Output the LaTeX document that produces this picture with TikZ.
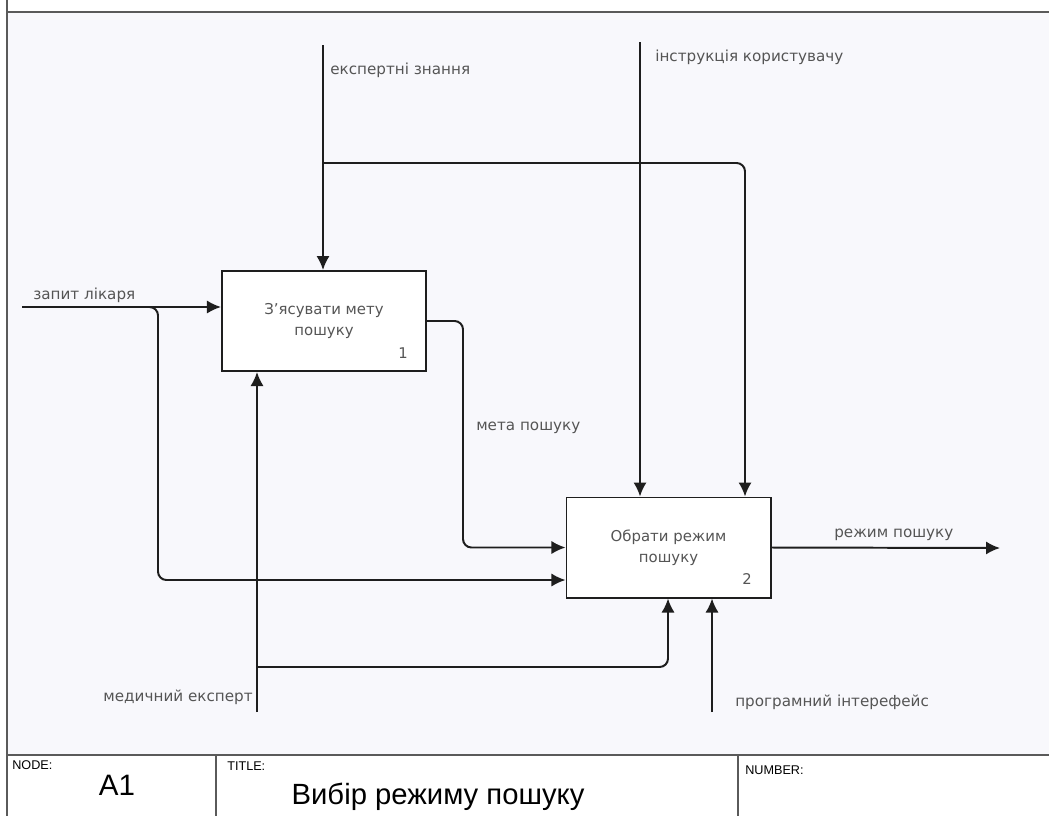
\documentclass[tikz,border=0pt]{standalone}
\usepackage{fontspec}
\setmainfont{DejaVu Sans}
\newfontfamily\blockfont{Liberation Sans}
\usepackage{xcolor}
\usepackage{tikz}
\usetikzlibrary{positioning,arrows.meta,calc}
\definecolor{IDEFink}{HTML}{1E1E1E}
\definecolor{IDEFframe}{HTML}{5A5A5A}
\definecolor{IDEFtext}{HTML}{555555}
\definecolor{IDEFpaper}{HTML}{F8F8FC}
\tikzset{
  procbox/.style={draw=IDEFink, line width=1.4pt, fill=white, align=center, text=IDEFtext, font=\fontsize{10.6}{15}\selectfont, minimum width=5.1cm, minimum height=2.5cm},
  boxnum/.style={text=IDEFtext, font=\fontsize{10.5}{12}\selectfont, inner sep=0pt},
  idefarr/.style={-{Latex[length=3.5mm,width=3.3mm]}, line width=1.4pt, draw=IDEFink, rounded corners=6pt},
  flowlabel/.style={text=IDEFtext, font=\fontsize{10.8}{13}\selectfont, inner sep=0pt},
  framelabel/.style={font=\blockfont\fontsize{9}{10}\selectfont, inner sep=0pt}
}
\begin{document}
\begin{tikzpicture}[x=0.025cm, y=-0.025cm]
\useasboundingbox (0,0) rectangle (1049,816);
% sheet and title block
\fill[IDEFpaper] (7,12) rectangle (1049,755);
\fill[white] (7,755) rectangle (1049,816);
\draw[IDEFframe, line width=1.2pt] (7,0) -- (7,816);
\draw[IDEFframe, line width=1.2pt] (7,12) -- (1049,12);
\draw[IDEFframe, line width=1.2pt] (7,755) -- (1049,755);
\draw[IDEFframe, line width=0.8pt] (216,755) -- (216,816);
\draw[IDEFframe, line width=0.8pt] (738,755) -- (738,816);
\node[framelabel, anchor=north west] (nodelbl) at (12,760) {NODE:};
\node[font=\blockfont\fontsize{21}{24}\selectfont, inner sep=0pt] (nodeval) at (117,785) {A1};
\node[framelabel, anchor=north west] (titlelbl) at (227,761) {TITLE:};
\node[font=\blockfont\fontsize{20.8}{24}\selectfont, inner sep=0pt] (titleval) at (438,797) {Вибір режиму пошуку};
\node[framelabel, anchor=north west] (numlbl) at (745,765) {NUMBER:};

% activities
\node[procbox] (b1) at (324,321) {З’ясувати мету\\пошуку};
\node[boxnum] at (403,353) {1};
\node[procbox] (b2) at (668.5,547.5) {Обрати режим\\пошуку};
\node[boxnum] at (747,579) {2};

% free ends and bends
\coordinate (ekspIn) at (323,45);
\coordinate (ekspSplit) at (323,163);
\coordinate (ekspBend) at (745,163);
\coordinate (instrIn) at (640,42);
\coordinate (zapytIn) at (22,307);
\coordinate (zapytSplit) at (130,307);
\coordinate (zapytBend) at (158,580);
\coordinate (metaBend) at (463,322);
\coordinate (medIn) at (257,712);
\coordinate (medSplit) at (257,667);
\coordinate (medBend) at (668,667);
\coordinate (progIn) at (712,712);
\coordinate (rezhOut) at (1000,548);

% controls
\draw[idefarr] (ekspIn) -- (ekspIn |- b1.north);
\draw[idefarr] (ekspSplit) -- (ekspBend) -- (ekspBend |- b2.north);
\draw[idefarr] (instrIn) -- (instrIn |- b2.north);
% inputs
\draw[idefarr] (zapytIn) -- (zapytIn -| b1.west);
\draw[idefarr] (zapytSplit) -- (zapytSplit -| zapytBend) -- (zapytBend) -- (zapytBend -| b2.west);
\draw[idefarr] (b1.east) -| (metaBend |- b2.west) -- (b2.west);
% mechanisms
\draw[idefarr] (medIn) -- (medIn |- b1.south);
\draw[idefarr] (medSplit) -- (medBend) -- (medBend |- b2.south);
\draw[idefarr] (progIn) -- (progIn |- b2.south);
% output
\draw[idefarr] (b2.east) -- (rezhOut);

% labels
\node[flowlabel, anchor=west] (ekspLbl) at (330,70) {експертні знання};
\node[flowlabel, anchor=west] (instrLbl) at (655,57) {інструкція користувачу};
\node[flowlabel, anchor=west] (zapytLbl) at (33,295) {запит лікаря};
\node[flowlabel, anchor=west] (metaLbl) at (476,428) {мета пошуку};
\node[flowlabel, anchor=east] (medLbl) at (253,697) {медичний експерт};
\node[flowlabel, anchor=west] (progLbl) at (735,702) {програмний інтерефейс};
\node[flowlabel, anchor=west] (rezhLbl) at (834,535) {режим пошуку};
\end{tikzpicture}
\end{document}
